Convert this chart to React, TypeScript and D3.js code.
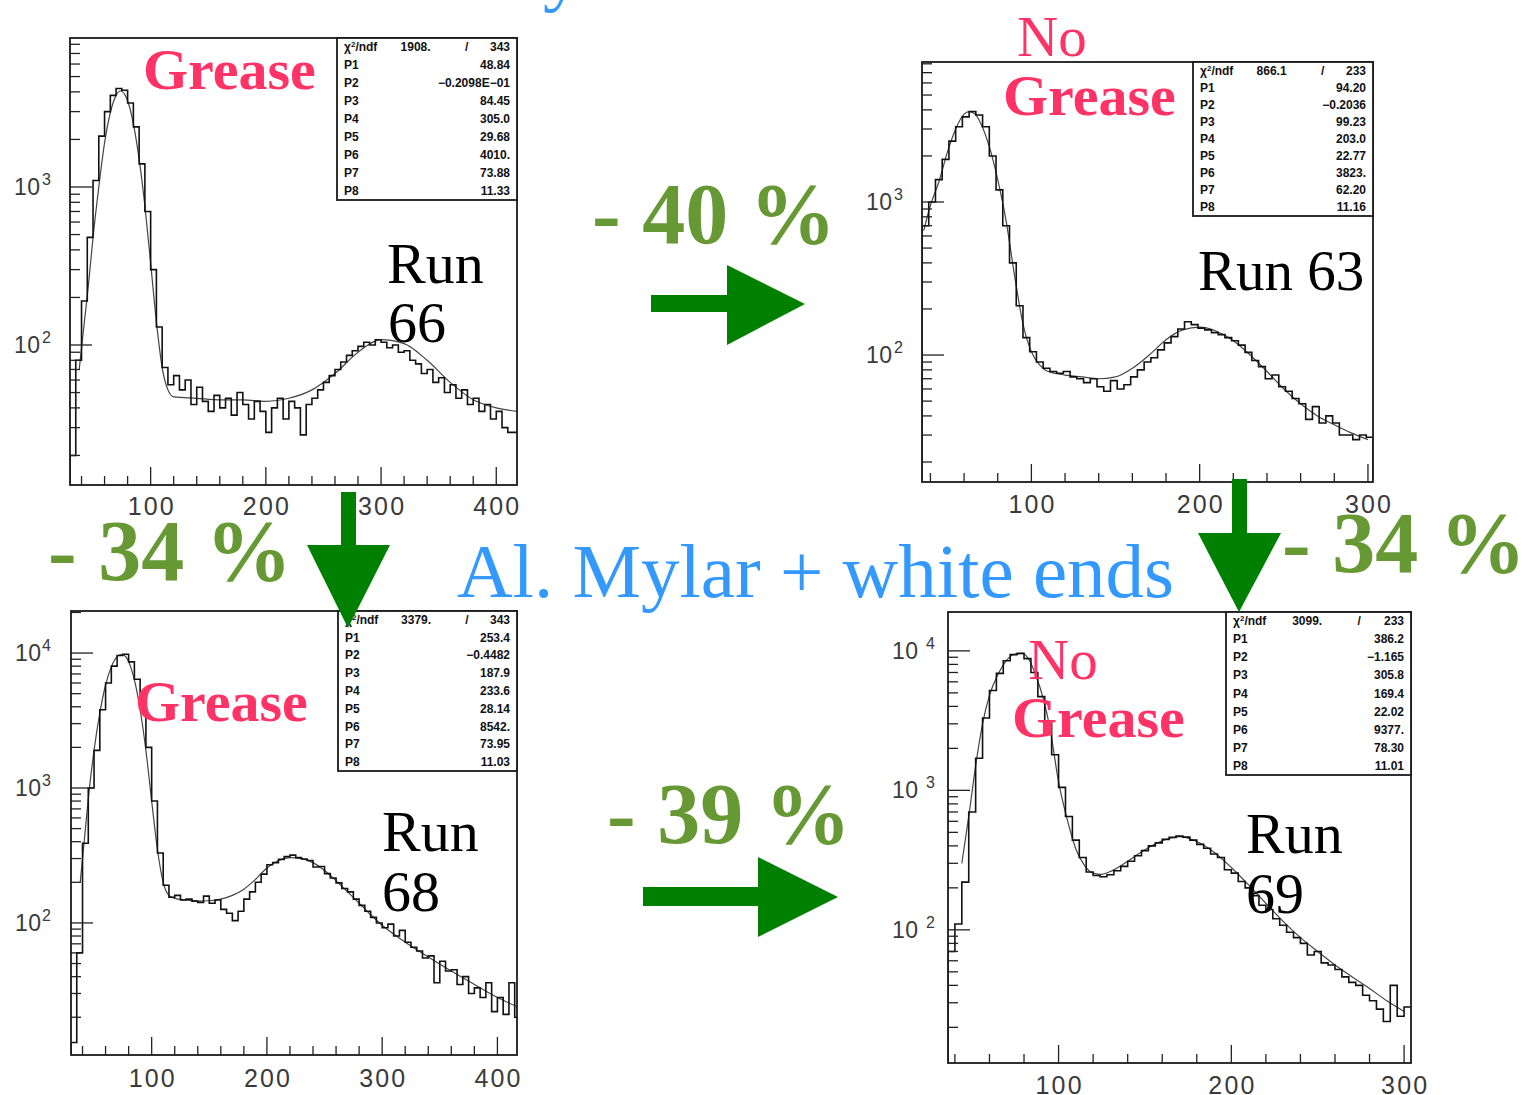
import React from "react";
import * as d3 from "d3";

const serif = "'Liberation Serif', 'Times New Roman', serif";
const sans = "'Liberation Sans', Arial, sans-serif";

// Run 66 - grease
const run66BinStart = 30;
const run66BinWidth = 5;
const run66Counts = [
  20, 80, 190, 480, 1100, 2100, 3000, 3800, 4200, 4100,
  3400, 2400, 1400, 700, 300, 130, 72, 56, 64, 52,
  60, 42, 54, 44, 38, 48, 40, 46, 36, 50,
  42, 34, 44, 38, 28, 40, 46, 34, 44, 40,
  27, 42, 46, 52, 58, 64, 70, 78, 86, 92,
  98, 104, 100, 108, 104, 96, 100, 90, 92, 80,
  76, 66, 70, 58, 62, 50, 56, 46, 52, 42,
  46, 38, 42, 34, 38, 30, 28, 28,
];
const run66FitE = [38, 42, 46, 50, 55, 60, 65, 70, 74, 78, 82, 86, 90, 95, 100, 105, 110, 115, 120, 140, 160, 180, 200, 220, 240, 260, 280, 300, 320, 340, 360, 380, 400, 418];
const run66FitN = [70, 130, 240, 480, 1000, 1900, 2950, 3800, 4050, 3800, 3150, 2300, 1500, 760, 330, 140, 72, 52, 47, 46, 45, 45, 44, 46, 52, 66, 90, 108, 102, 80, 58, 45, 40, 38];
const run66XRange = [30, 418];
const run66YRange = [13, 8770];
const run66Chi = ["1908.", "343"];
const run66Pars = ["48.84", "\u22120.2098E\u221201", "84.45", "305.0", "29.68", "4010.", "73.88", "11.33"];

// Run 63 - no grease
const run63BinStart = 35;
const run63BinWidth = 4;
const run63Counts = [
  700, 1000, 1400, 1900, 2500, 3100, 3600, 3900, 3700, 3100,
  2000, 1200, 700, 400, 210, 130, 105, 90, 82, 78,
  76, 78, 72, 70, 66, 70, 62, 58, 68, 60,
  64, 72, 80, 90, 96, 108, 120, 132, 148, 165,
  158, 150, 146, 140, 136, 130, 124, 116, 104, 92,
  84, 70, 74, 62, 58, 52, 48, 38, 46, 36,
  40, 36, 30, 30, 28, 30, 29,
];
const run63FitE = [36, 40, 45, 50, 55, 60, 63, 66, 70, 75, 80, 85, 90, 95, 100, 105, 110, 120, 130, 140, 150, 160, 170, 180, 190, 200, 210, 220, 230, 240, 250, 260, 270, 280, 290, 300];
const run63FitN = [650, 950, 1350, 2100, 3000, 3750, 3900, 3800, 3250, 2300, 1400, 750, 330, 160, 105, 86, 78, 74, 72, 70, 72, 82, 100, 126, 146, 152, 143, 124, 100, 78, 60, 48, 40, 35, 31, 28];
const run63XRange = [35, 303];
const run63YRange = [14.8, 8220];
const run63Chi = ["866.1", "233"];
const run63Pars = ["94.20", "\u22120.2036", "99.23", "203.0", "22.77", "3823.", "62.20", "11.16"];

// Run 68 - grease, Al. Mylar + white ends
const run68BinStart = 30;
const run68BinWidth = 5;
const run68Counts = [
  13, 60, 390, 1000, 1900, 3800, 6000, 8000, 9600, 9800,
  8600, 6400, 4000, 2000, 800, 330, 190, 155, 160, 148,
  150, 145, 142, 158, 140, 148, 126, 118, 104, 122,
  150, 170, 200, 230, 270, 280, 296, 310, 318, 305,
  298, 290, 260, 262, 232, 215, 198, 180, 170, 150,
  135, 122, 110, 100, 92, 98, 80, 88, 72, 66,
  62, 55, 57, 36, 52, 44, 45, 35, 40, 30,
  33, 28, 36, 22, 28, 21, 36, 20,
];
const run68FitE = [38, 42, 46, 50, 55, 60, 65, 70, 74, 78, 82, 86, 90, 95, 100, 105, 110, 115, 120, 130, 140, 150, 160, 170, 180, 190, 200, 210, 220, 230, 240, 250, 260, 270, 280, 290, 300, 320, 340, 360, 380, 400, 417];
const run68FitN = [200, 450, 1000, 1900, 3600, 5800, 7900, 9400, 9800, 9300, 7800, 5800, 3800, 1900, 800, 350, 200, 160, 152, 148, 145, 146, 150, 160, 178, 210, 255, 290, 305, 300, 280, 245, 205, 170, 140, 115, 96, 72, 56, 44, 35, 28, 24];
const run68XRange = [30, 417];
const run68YRange = [10.5, 20500];
const run68Chi = ["3379.", "343"];
const run68Pars = ["253.4", "\u22120.4482", "187.9", "233.6", "28.14", "8542.", "73.95", "11.03"];

// Run 69 - no grease, Al. Mylar + white ends
const run69BinStart = 36;
const run69BinWidth = 4;
const run69Counts = [
  70, 110, 220, 700, 1700, 3300, 5200, 6900, 8500, 9400,
  9600, 8800, 7000, 4700, 3000, 1800, 1050, 650, 440, 330,
  260, 245, 240, 248, 265, 285, 310, 340, 370, 400,
  420, 445, 460, 470, 462, 440, 410, 385, 350, 330,
  270, 255, 222, 200, 176, 150, 140, 120, 108, 96,
  88, 80, 66, 70, 58, 56, 52, 46, 42, 40,
  34, 31, 27, 22, 40, 24, 28,
];
const run69FitE = [44, 48, 52, 56, 60, 65, 70, 75, 79, 83, 87, 91, 95, 100, 105, 110, 115, 120, 125, 130, 140, 150, 160, 170, 180, 190, 200, 210, 220, 230, 240, 250, 260, 270, 280, 290, 300];
const run69FitN = [300, 650, 1500, 3000, 4800, 6800, 8600, 9500, 9600, 8600, 6600, 4600, 2800, 1150, 620, 380, 290, 255, 250, 262, 310, 375, 435, 465, 430, 360, 280, 210, 155, 115, 88, 70, 56, 46, 38, 31, 26];
const run69XRange = [36, 304];
const run69YRange = [11.1, 19000];
const run69Chi = ["3099.", "233"];
const run69Pars = ["386.2", "\u22121.165", "305.8", "169.4", "22.02", "9377.", "78.30", "11.01"];

const xMajor4 = [100, 200, 300, 400];
const xMajor3 = [100, 200, 300];

const panels = [
  { key: "r66", frame: [70, 38, 517, 485], xRange: run66XRange, yRange: run66YRange, binStart: run66BinStart, binWidth: run66BinWidth, counts: run66Counts, fitE: run66FitE, fitN: run66FitN, xMajor: xMajor4, labelBase: 515, box: [337, 38, 517, 200], chi: run66Chi, pars: run66Pars, supGap: 28, closeRight: false },
  { key: "r63", frame: [922, 62, 1373, 482], xRange: run63XRange, yRange: run63YRange, binStart: run63BinStart, binWidth: run63BinWidth, counts: run63Counts, fitE: run63FitE, fitN: run63FitN, xMajor: xMajor3, labelBase: 513, box: [1193, 62, 1373, 216], chi: run63Chi, pars: run63Pars, supGap: 28, closeRight: true },
  { key: "r68", frame: [71, 611, 517, 1055], xRange: run68XRange, yRange: run68YRange, binStart: run68BinStart, binWidth: run68BinWidth, counts: run68Counts, fitE: run68FitE, fitN: run68FitN, xMajor: xMajor4, labelBase: 1087, box: [338, 611, 517, 771], chi: run68Chi, pars: run68Pars, supGap: 29, closeRight: false },
  { key: "r69", frame: [948, 612, 1411, 1063], xRange: run69XRange, yRange: run69YRange, binStart: run69BinStart, binWidth: run69BinWidth, counts: run69Counts, fitE: run69FitE, fitN: run69FitN, xMajor: xMajor3, labelBase: 1094, box: [1226, 612, 1411, 775], supGap: 22, chi: run69Chi, pars: run69Pars, closeRight: false },
];

function HistPanel({ p }: { p: any }) {
  const [x0, y0, x1, y1] = p.frame;
  const x = d3.scaleLinear().domain(p.xRange).range([x0, x1]);
  const y = d3.scaleLog().domain(p.yRange).range([y1, y0]).clamp(true);

  const end = p.binStart + p.counts.length * p.binWidth;
  const steps: [number, number][] = [[p.binStart, p.yRange[0]]];
  p.counts.forEach((c: number, i: number) => steps.push([p.binStart + i * p.binWidth, c]));
  steps.push([end, p.counts[p.counts.length - 1]]);
  if (p.closeRight) steps.push([end, p.yRange[0]]);

  const histPath = d3
    .line<[number, number]>()
    .x((d) => x(d[0]))
    .y((d) => y(d[1]))
    .curve(d3.curveStepAfter)(steps);

  const fitPts: [number, number][] = p.fitE.map((e: number, i: number) => [e, p.fitN[i]]);
  const fitPath = d3
    .line<[number, number]>()
    .x((d) => x(d[0]))
    .y((d) => y(d[1]))
    .curve(d3.curveMonotoneX)(fitPts);

  const minorX = d3.range(Math.ceil(p.xRange[0] / 20) * 20, p.xRange[1], 20);
  const yTicks = y.ticks();
  const isDecade = (v: number) => Math.abs(Math.log10(v) - Math.round(Math.log10(v))) < 1e-6;

  const [bx0, by0, bx1, by1] = p.box;
  const rowH = (by1 - by0) / 9;
  const bw = bx1 - bx0;
  const clipId = `clip-${p.key}`;

  return (
    <g>
      <defs>
        <clipPath id={clipId}>
          <rect x={x0} y={y0} width={x1 - x0} height={y1 - y0} />
        </clipPath>
      </defs>
      <rect x={x0} y={y0} width={x1 - x0} height={y1 - y0} fill="#fff" stroke="none" />
      <g clipPath={`url(#${clipId})`}>
        <path d={fitPath || ""} fill="none" stroke="#444" strokeWidth={1.2} />
        <path d={histPath || ""} fill="none" stroke="#111" strokeWidth={1.6} />
      </g>

      {/* x ticks */}
      {minorX.map((v) => (
        <line key={`mx${v}`} x1={x(v)} x2={x(v)} y1={y1} y2={y1 - (p.xMajor.includes(v) ? 18 : 9)} stroke="#222" strokeWidth={1.3} />
      ))}
      {p.xMajor.map((v: number) => (
        <text key={`lx${v}`} x={x(v)} y={p.labelBase} textAnchor="middle" fontFamily={sans} fontSize={25} fill="#3a3a3a" textLength={46} lengthAdjust="spacing">
          {v}
        </text>
      ))}

      {/* y ticks (log) */}
      {yTicks.map((v) => (
        <line key={`my${v}`} x1={x0} x2={x0 + (isDecade(v) ? 22 : 10)} y1={y(v)} y2={y(v)} stroke="#222" strokeWidth={1.3} />
      ))}
      {yTicks.filter(isDecade).map((v) => (
        <g key={`ly${v}`}>
          <text x={x0 - 30} y={y(v) + 8} textAnchor="end" fontFamily={sans} fontSize={23} fill="#3a3a3a" textLength={26} lengthAdjust="spacing">
            10
          </text>
          <text x={x0 - p.supGap} y={y(v) - 2} textAnchor="start" fontFamily={sans} fontSize={16} fill="#3a3a3a">
            {Math.round(Math.log10(v))}
          </text>
        </g>
      ))}

      <rect x={x0} y={y0} width={x1 - x0} height={y1 - y0} fill="none" stroke="#1a1a1a" strokeWidth={1.8} />

      {/* fit statistics box */}
      <rect x={bx0} y={by0} width={bw} height={by1 - by0} fill="#fff" stroke="#1a1a1a" strokeWidth={1.8} />
      <g fontFamily={sans} fontWeight="bold" fontSize={12} fill="#111">
        <text x={bx0 + 7} y={by0 + rowH * 0.5 + 4}>
          {"\u03C7"}
          <tspan dy={-4} fontSize={8}>2</tspan>
          <tspan dy={4}>/ndf</tspan>
        </text>
        <text x={bx0 + bw * 0.52} y={by0 + rowH * 0.5 + 4} textAnchor="end">{p.chi[0]}</text>
        <text x={bx0 + bw * 0.72} y={by0 + rowH * 0.5 + 4} textAnchor="middle">/</text>
        <text x={bx1 - 7} y={by0 + rowH * 0.5 + 4} textAnchor="end">{p.chi[1]}</text>
        {p.pars.map((v: string, i: number) => (
          <g key={`par${i}`}>
            <text x={bx0 + 7} y={by0 + rowH * (i + 1.5) + 4}>{`P${i + 1}`}</text>
            <text x={bx1 - 7} y={by0 + rowH * (i + 1.5) + 4} textAnchor="end">{v}</text>
          </g>
        ))}
      </g>
    </g>
  );
}

const pink = "#ff3366";
const olive = "#669933";
const arrowGreen = "#008000";
const blue = "#3399ff";

export default function App() {
  return (
    <svg width={1531} height={1095} style={{ position: "absolute", left: 0, top: 0, background: "#fff" }}>
      <rect width={1531} height={1095} fill="#fff" />
      <text x={543} y={-3} fontFamily={serif} fontSize={77} fill={blue}>y</text>

      {panels.map((p) => (
        <HistPanel key={p.key} p={p} />
      ))}

      {/* panel annotations */}
      <g fontFamily={serif}>
        <text x={143} y={89} fontSize={58} fontWeight="bold" fill={pink}>Grease</text>
        <text x={387} y={283} fontSize={58} fill="#000">Run</text>
        <text x={388} y={342} fontSize={58} fill="#000">66</text>

        <text x={1017} y={56} fontSize={57} fill={pink}>No</text>
        <text x={1003} y={115} fontSize={58} fontWeight="bold" fill={pink}>Grease</text>
        <text x={1198} y={290} fontSize={57} fill="#000">Run 63</text>

        <text x={135} y={721} fontSize={58} fontWeight="bold" fill={pink}>Grease</text>
        <text x={382} y={851} fontSize={58} fill="#000">Run</text>
        <text x={382} y={911} fontSize={58} fill="#000">68</text>

        <text x={1028} y={679} fontSize={57} fill={pink}>No</text>
        <text x={1012} y={737} fontSize={58} fontWeight="bold" fill={pink}>Grease</text>
        <text x={1246} y={853} fontSize={58} fill="#000">Run</text>
        <text x={1246} y={913} fontSize={58} fill="#000">69</text>
      </g>

      {/* reductions */}
      <g fontFamily={serif} fontWeight="bold" fontSize={86} fill={olive}>
        <text x={592} y={243}>- 40 %</text>
        <text x={48} y={580}>- 34 %</text>
        <text x={1282} y={572}>- 34 %</text>
        <text x={607} y={843}>- 39 %</text>
      </g>

      <text x={457} y={597} fontFamily={serif} fontSize={77} fill={blue}>Al. Mylar + white ends</text>

      {/* arrows */}
      <g fill={arrowGreen}>
        <rect x={651} y={295} width={78} height={17} />
        <polygon points="727,265 805,304 727,345" />
        <rect x={643} y={887} width={117} height={19} />
        <polygon points="758,857 838,897 758,937" />
        <rect x={341} y={492} width={15} height={55} />
        <polygon points="307,545 390,545 348,628" />
        <rect x={1232} y={479} width={15} height={56} />
        <polygon points="1198,533 1281,533 1239,612" />
      </g>
    </svg>
  );
}
